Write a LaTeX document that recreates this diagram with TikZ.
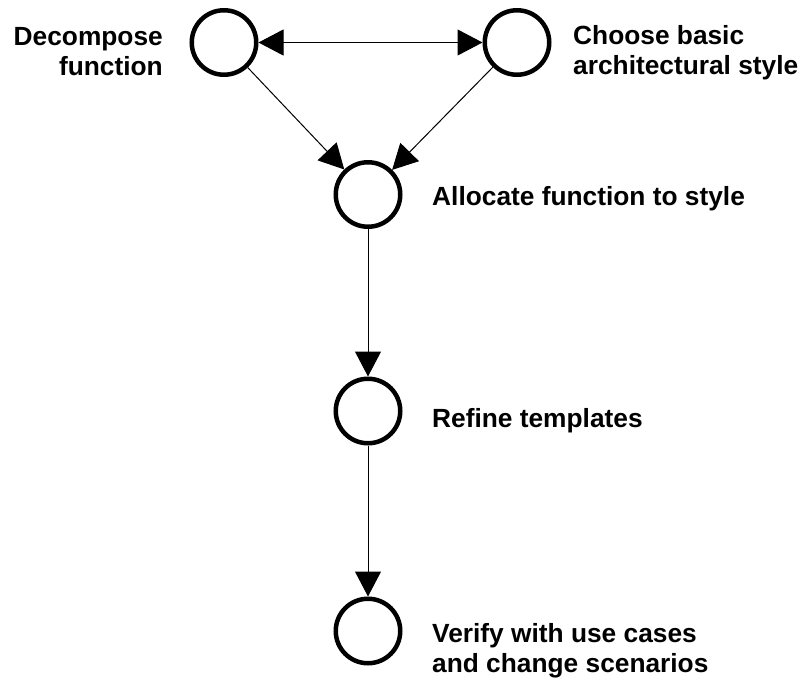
\documentclass[tikz,border=0pt]{standalone}
\usepackage{fontspec}
\setmainfont{Liberation Sans}
\usetikzlibrary{arrows.meta}
\begin{document}
\begin{tikzpicture}[x=1pt,y=-1pt,
  proc/.style={circle,draw,line width=4.5pt,minimum size=64.5pt,inner sep=0pt},
  lbl/.style={font=\fontsize{26.3pt}{30pt}\selectfont\bfseries,inner sep=0pt},
  conn/.style={line width=1pt,-{Triangle[length=25pt,width=26pt]}},
  both/.style={line width=1pt,{Triangle[length=25pt,width=26pt]}-{Triangle[length=25pt,width=26pt]}}]
\useasboundingbox (0,0) rectangle (804,681);
\node[proc] (dec) at (224,42.5) {};
\node[proc] (cho) at (517,42.5) {};
\node[proc] (all) at (368,194.5) {};
\node[proc] (ref) at (368,411) {};
\node[proc] (ver) at (368,631) {};
\node[lbl,anchor=base east,align=right] (tdec) at (163,75) {Decompose\\function};
\node[lbl,anchor=base west,align=left] (tcho) at (573,74) {Choose basic\\architectural style};
\node[lbl,anchor=base west] (tall) at (432,205) {Allocate function to style};
\node[lbl,anchor=base west] (tref) at (432,427) {Refine templates};
\node[lbl,anchor=base west,align=left] (tver) at (432,672) {Verify with use cases\\and change scenarios};
\draw[both] (dec) -- (cho);
\draw[conn] (dec) -- (all);
\draw[conn] (cho) -- (all);
\draw[conn] (all) -- (ref);
\draw[conn] (ref) -- (ver);
\end{tikzpicture}
\end{document}
